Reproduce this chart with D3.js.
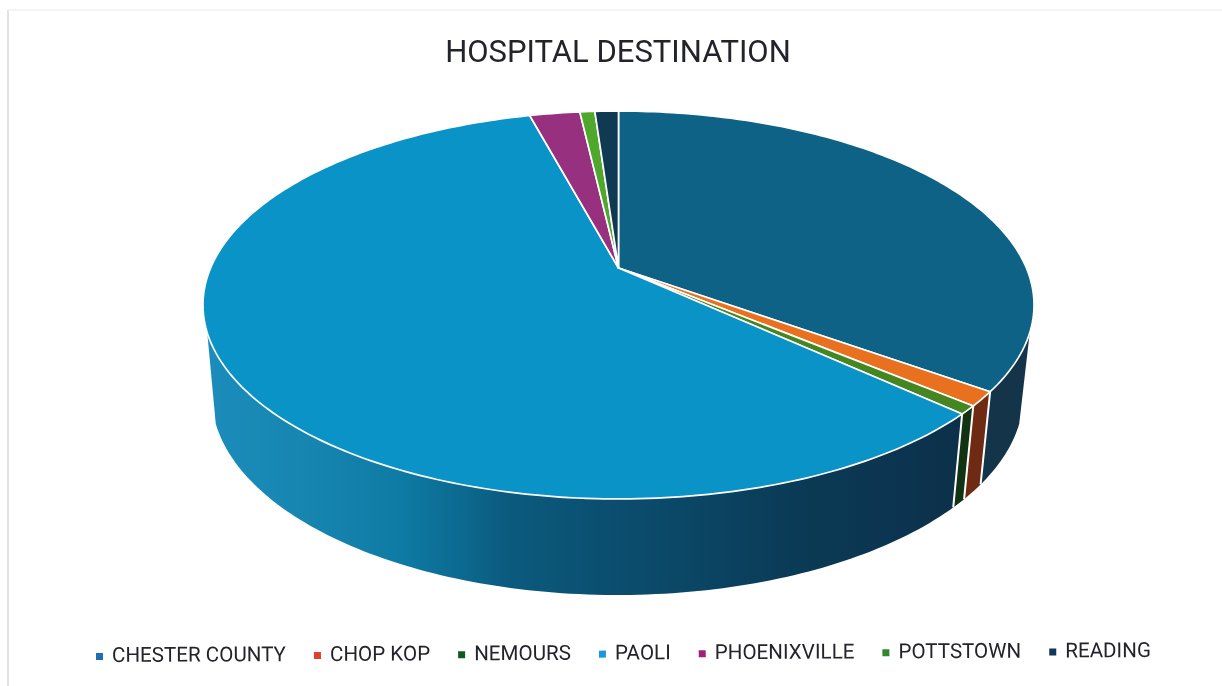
<!DOCTYPE html>
<html>
<head>
<meta charset="utf-8">
<script src="https://cdnjs.cloudflare.com/ajax/libs/d3/7.8.5/d3.min.js"></script>
<style>
html,body{margin:0;padding:0;background:#fff;overflow:hidden}
svg{display:block;filter:blur(0.45px)}
text{font-family:Roboto,"Liberation Sans",sans-serif;fill:#23232b}
</style>
</head>
<body>
<svg id="chart" width="1222" height="686"></svg>
<script>
const titleText = "HOSPITAL DESTINATION";
const categories = ["CHESTER COUNTY","CHOP KOP","NEMOURS","PAOLI","PHOENIXVILLE","POTTSTOWN","READING"];
const shares = [35.0,1.2,0.7,58.95,2.35,0.7,1.1];
const topColors = ["#0e6286","#e8701f","#458522","#0a93c6","#97307f","#4fa82b","#0f3a52"];
const wallColors = ["#14344a","#6f2a14","#123214","url(#paoliWall)","#5a1c4c","#2c6618","#0a2233"];
const legendColors = ["#1f6fb2","#e2402c","#0f5a22","#1b98dc","#a0207c","#2f8a2c","#12365f"];
const paoliWallStops = [[207,"#1b8cbb"],[300,"#1786b1"],[400,"#0e7ba4"],[470,"#0c678d"],[500,"#0b5c80"],[600,"#0b4f70"],[700,"#0b4564"],[800,"#0a3a55"],[900,"#0c3450"],[960,"#0c3049"]];

const svg = d3.select("#chart");
const W = 1222, H = 686;

// Perspective of the disc
const k = 0.1907;
const syTop = d3.scaleLinear().domain([-1,1]).range([268-186.9,268+186.9]);
const sxTop = d3.scaleLinear().domain([-1,1]).range([618.5-407.9,618.5+407.9]);
const sxBot = d3.scaleLinear().domain([-1,1]).range([617.5-398.5,617.5+398.5]);
const syBot = d3.scaleLinear().domain([-1,1]).range([356.9-192.7,356.9+192.7]);

function proj(a,r,xs,ys){
  const u = r*Math.sin(a), v = -r*Math.cos(a), w = 1-k*v;
  return [xs(u/w),ys(v/w)];
}
const topPt = (a,r=1)=>proj(a,r,sxTop,syTop);
const botPt = (a,r=1)=>proj(a,r,sxBot,syBot);
const line = d3.line();
const rad = d=>d*Math.PI/180;
const wallStart = rad(109), wallEnd = rad(251);

const arcs = d3.pie().sort(null)(shares);

const defs = svg.append("defs");
const grad = defs.append("linearGradient").attr("id","paoliWall")
  .attr("gradientUnits","userSpaceOnUse").attr("x1",207).attr("x2",960).attr("y1",0).attr("y2",0);
paoliWallStops.forEach(s=>grad.append("stop")
  .attr("offset",(s[0]-207)/(960-207)).attr("stop-color",s[1]));

// frame
svg.append("line").attr("x1",8).attr("x2",8).attr("y1",10).attr("y2",H).attr("stroke","#d9d9d9").attr("stroke-width",1.5);
svg.append("line").attr("x1",8).attr("x2",W).attr("y1",10).attr("y2",10).attr("stroke","#f0f0f0").attr("stroke-width",1.5);

// title
svg.append("text").attr("x",618).attr("y",62).attr("text-anchor","middle")
  .attr("font-size",31).text(titleText);

function samples(a0,a1){
  const n = Math.max(2,Math.ceil((a1-a0)/rad(1)));
  return d3.range(n+1).map(i=>a0+(a1-a0)*i/n);
}

// side walls
const g = svg.append("g");
arcs.forEach((d,i)=>{
  const a0 = Math.max(d.startAngle,wallStart), a1 = Math.min(d.endAngle,wallEnd);
  if(a1<=a0) return;
  const s = samples(a0,a1);
  const pts = s.map(a=>topPt(a)).concat(s.slice().reverse().map(a=>botPt(a)));
  g.append("path").attr("d",line(pts)+"Z").attr("fill",wallColors[i]);
});
// wall separators
arcs.forEach(d=>{
  const a = d.endAngle;
  if(a>wallStart && a<wallEnd){
    g.append("path").attr("d",line([topPt(a),botPt(a)]))
      .attr("stroke","#fff").attr("stroke-width",2).attr("fill","none");
  }
});

// top slices
arcs.forEach((d,i)=>{
  const s = samples(d.startAngle,d.endAngle);
  const pts = [topPt(0,0)].concat(s.map(a=>topPt(a)));
  g.append("path").attr("d",line(pts)+"Z").attr("fill",topColors[i])
    .attr("stroke","#fff").attr("stroke-width",1.7).attr("stroke-linejoin","round");
});

// legend
const legend = svg.append("g").attr("transform","rotate(-0.27 96 656)");
let x = 96;
categories.forEach((c,i)=>{
  legend.append("rect").attr("x",x).attr("y",653).attr("width",7).attr("height",7).attr("fill",legendColors[i]);
  const t = legend.append("text").attr("x",x+16).attr("y",662).attr("font-size",20.6).text(c);
  x += 16 + t.node().getComputedTextLength() + 28;
});
</script>
</body>
</html>
